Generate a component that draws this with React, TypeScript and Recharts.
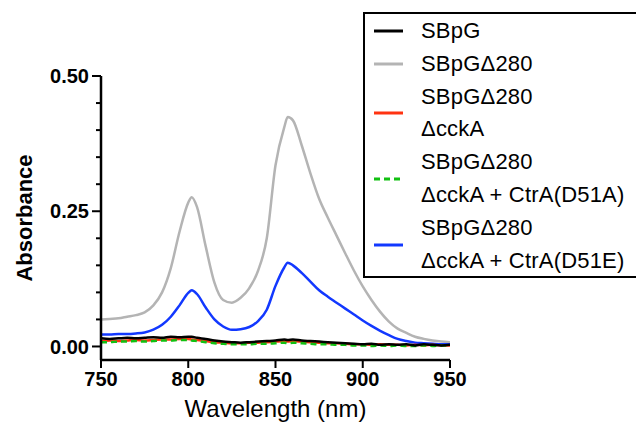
import React from 'react';
import { LineChart, Line, XAxis, YAxis, Label } from 'recharts';

const wavelength = [
  750, 755, 760, 765, 770, 775, 780, 785, 790, 795, 800, 802, 805, 810, 815, 820, 825, 830, 835, 840, 845,
  850, 855, 857, 860, 865, 870, 875, 880, 885, 890, 895, 900, 905, 910, 915, 920, 925, 930, 935, 940, 945, 950,
];

const sbpg = [
  0.015, 0.014, 0.015, 0.016, 0.015, 0.016, 0.017, 0.016, 0.018, 0.017, 0.018, 0.018, 0.016, 0.014, 0.011,
  0.009, 0.008, 0.007, 0.008, 0.009, 0.01, 0.011, 0.013, 0.012, 0.013, 0.011, 0.01, 0.009, 0.008, 0.007,
  0.006, 0.005, 0.004, 0.005, 0.003, 0.004, 0.003, 0.004, 0.002, 0.004, 0.003, 0.002, 0.003,
];

const d280 = [
  0.05, 0.051, 0.052, 0.055, 0.058, 0.063, 0.076, 0.1, 0.145, 0.212, 0.266, 0.276, 0.258, 0.185, 0.118,
  0.086, 0.081, 0.09, 0.108, 0.14, 0.2, 0.335, 0.405, 0.424, 0.418, 0.372, 0.32, 0.273, 0.238, 0.205,
  0.172, 0.14, 0.111, 0.086, 0.064, 0.046, 0.033, 0.025, 0.018, 0.014, 0.011, 0.009, 0.008,
];

const cckA = [
  0.01, 0.011, 0.01, 0.011, 0.012, 0.011, 0.012, 0.013, 0.013, 0.014, 0.014, 0.013, 0.012, 0.01, 0.008,
  0.007, 0.006, 0.006, 0.007, 0.007, 0.008, 0.009, 0.01, 0.009, 0.01, 0.009, 0.008, 0.007, 0.006, 0.006,
  0.005, 0.004, 0.004, 0.003, 0.004, 0.003, 0.003, 0.002, 0.003, 0.002, 0.003, 0.002, 0.002,
];

const d51a = [
  0.008, 0.008, 0.009, 0.009, 0.01, 0.009, 0.01, 0.011, 0.011, 0.012, 0.012, 0.011, 0.01, 0.008, 0.006,
  0.005, 0.004, 0.004, 0.004, 0.005, 0.005, 0.006, 0.007, 0.006, 0.007, 0.006, 0.005, 0.004, 0.004, 0.003,
  0.003, 0.002, 0.002, 0.001, 0.002, 0.001, 0.002, 0.001, 0.001, 0.002, 0.001, 0.002, 0.001,
];

const d51e = [
  0.022, 0.022, 0.023, 0.023, 0.024, 0.026, 0.031, 0.04, 0.055, 0.076, 0.099, 0.104, 0.097, 0.072, 0.05,
  0.037, 0.031, 0.032, 0.036, 0.047, 0.068, 0.112, 0.146, 0.155, 0.15, 0.136, 0.12, 0.104, 0.092, 0.081,
  0.07, 0.059, 0.048, 0.038, 0.029, 0.021, 0.014, 0.01, 0.007, 0.006, 0.005, 0.004, 0.004,
];

const xTicks = [750, 800, 850, 900, 950];
const yTicks = [0, 0.05, 0.1, 0.15, 0.2, 0.25, 0.3, 0.35, 0.4, 0.45, 0.5];

const data = wavelength.map((w, i) => ({
  w,
  sbpg: sbpg[i],
  d280: d280[i],
  cckA: cckA[i],
  d51a: d51a[i],
  d51e: d51e[i],
}));

const series = [
  { key: 'sbpg', lines: ['SBpG'], color: '#000000', dash: undefined },
  { key: 'd280', lines: ['SBpG\u0394280'], color: '#b4b4b4', dash: undefined },
  { key: 'cckA', lines: ['SBpG\u0394280', '\u0394cckA'], color: '#ff3311', dash: undefined },
  { key: 'd51a', lines: ['SBpG\u0394280', '\u0394cckA + CtrA(D51A)'], color: '#11c011', dash: '6 4' },
  { key: 'd51e', lines: ['SBpG\u0394280', '\u0394cckA + CtrA(D51E)'], color: '#1238ff', dash: undefined },
];

const drawOrder = ['d280', 'd51e', 'cckA', 'd51a', 'sbpg'];

const font = '"Liberation Sans", Arial, sans-serif';

const YTick = (props: any) => {
  const { x, y, payload } = props;
  const v = payload.value;
  const major = Math.abs(v * 4 - Math.round(v * 4)) < 1e-6;
  return (
    <g>
      <line x1={x - (major ? 9 : 5)} x2={x} y1={y} y2={y} stroke="#000" strokeWidth={2} />
      {major && (
        <text x={x - 12} y={y} dy="0.36em" textAnchor="end" fontWeight="bold" fontSize={20} fill="#000" fontFamily={font}>
          {v.toFixed(2)}
        </text>
      )}
    </g>
  );
};

const ChartLegend = () => (
  <div
    style={{
      position: 'absolute',
      left: 363,
      top: 12,
      width: 273,
      height: 266,
      border: '2px solid #000',
      borderRight: 'none',
      boxSizing: 'border-box',
      background: '#fff',
      paddingTop: 1,
      fontFamily: font,
      fontSize: 22,
      lineHeight: '32.8px',
      color: '#000',
    }}
  >
    {series.map((s) => (
      <div key={s.key} style={{ display: 'flex', alignItems: 'center' }}>
        <svg width={29} height={6} style={{ marginLeft: 9, marginRight: 18, flexShrink: 0 }}>
          <line x1={0} x2={29} y1={3} y2={3} stroke={s.color} strokeWidth={3} strokeDasharray={s.dash} />
        </svg>
        <div style={{ whiteSpace: 'nowrap', letterSpacing: 0.2 }}>
          {s.lines.map((t, i) => (
            <div key={i}>{t}</div>
          ))}
        </div>
      </div>
    ))}
  </div>
);

export default function App() {
  return (
    <div style={{ position: 'absolute', left: 0, top: 0, width: 636, height: 423, background: '#fff' }}>
      <LineChart width={636} height={423} data={data} margin={{ top: 76, right: 186, left: 41, bottom: 13 }}>
        <XAxis
          dataKey="w"
          type="number"
          domain={[750, 950]}
          ticks={xTicks}
          allowDataOverflow
          height={50}
          stroke="#000"
          strokeWidth={2.5}
          tickSize={8}
          tickMargin={4}
          tickLine={{ stroke: '#000', strokeWidth: 2 }}
          tick={{ fill: '#000', fontSize: 20, fontWeight: 'bold', fontFamily: font }}
        >
          <Label
            value="Wavelength (nm)"
            position="insideBottom"
            offset={-7}
            style={{ fill: '#000', fontSize: 24, fontFamily: font }}
          />
        </XAxis>
        <YAxis
          type="number"
          domain={[-0.025, 0.5]}
          ticks={yTicks}
          allowDataOverflow
          width={60}
          stroke="#000"
          strokeWidth={2.5}
          tickSize={0}
          tickMargin={0}
          tickLine={false}
          tick={<YTick />}
        >
          <Label
            value="Absorbance"
            angle={-90}
            position="insideLeft"
            offset={-17}
            style={{ fill: '#000', fontSize: 22, fontWeight: 'bold', fontFamily: font, textAnchor: 'middle' }}
          />
        </YAxis>
        {drawOrder.map((k) => {
          const s = series.find((x) => x.key === k)!;
          return (
            <Line
              key={k}
              dataKey={k}
              type="monotone"
              stroke={s.color}
              strokeWidth={2.5}
              strokeDasharray={s.dash}
              dot={false}
              isAnimationActive={false}
            />
          );
        })}
      </LineChart>
      <ChartLegend />
    </div>
  );
}
